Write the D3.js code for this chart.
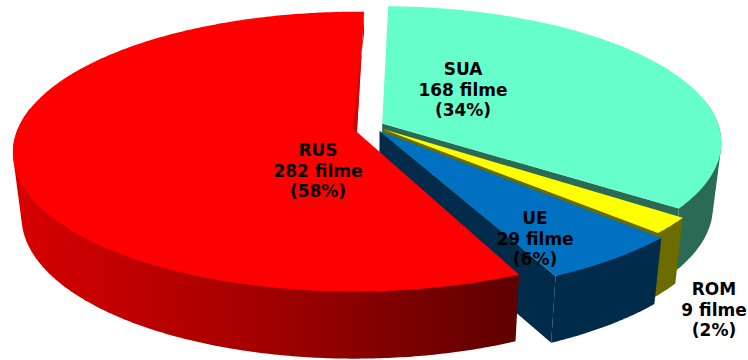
<!DOCTYPE html>
<html><head><meta charset="utf-8">
<script src="https://cdn.jsdelivr.net/npm/d3@7/dist/d3.min.js"></script>
<style>html,body{margin:0;background:#fff;overflow:hidden}svg{display:block}
text{font-family:"DejaVu Sans",sans-serif;font-weight:bold;font-size:17px;fill:#000;text-anchor:middle}</style>
</head><body>
<svg id="c" width="748" height="360"></svg>
<script>
const categories = ["SUA","ROM","UE","RUS"];
const films = [168,9,29,282];
const percents = [34,2,6,58];
const topColors = ["#66ffcc","#ffff00","#0070c0","#ff0000"];
const sideColors = ["#2b6b55","#6b6b00","#002b4b","url(#redWall)"];
const shiftU = [0.03,0.031,0.022,-0.044];
const shiftV = [-0.04,0,0.015,0.022];
const radiusU = [0.99,1,1.02,0.995];
const radiusV = [0.985,1,1.02,0.995];
const startNudgeDeg = [0,1.1,1.4,1.7];
const endNudgeDeg = [0.5,1.4,0.7,-0.4];
const labelX = [463,714,535,318];
const labelY = [75,295,224,156];

const W=748,H=360, cx=372, cy=129, persp=0.14, depth=64, converge=0.024;
const rad=Math.PI/180;
const sx=d3.scaleLinear([-1,1],[-341,341]), sy=d3.scaleLinear([-1,1],[-137,137]);
const svg=d3.select("#c");
const g=svg.append("defs").append("linearGradient").attr("id","redWall")
  .attr("gradientUnits","userSpaceOnUse").attr("x1",12).attr("x2",522).attr("y1",0).attr("y2",0);
[[0,"#d80000"],[0.5,"#a20000"],[1,"#5c0000"]].forEach(s=>g.append("stop").attr("offset",s[0]).attr("stop-color",s[1]));

function project(u,v,z){
  const s=1/(1-persp*v);
  return [cx+sx(u)*s*(1-converge*z), cy+sy(v)*s+depth*z*(1+(s-1)*0.3)];
}
const pie=d3.pie().sort(null).startAngle(1.4*rad).endAngle(361.4*rad);
const arcs=pie(films);
const line=d3.line();
function rim(i,a0,a1,z){
  const n=Math.max(2,Math.ceil(Math.abs(a1-a0)/0.01));
  return d3.range(n+1).map(k=>{const a=a0+(a1-a0)*k/n;
    return project(shiftU[i]+radiusU[i]*Math.sin(a),shiftV[i]-radiusV[i]*Math.cos(a),z);});
}
const apex=(i,z)=>project(shiftU[i],shiftV[i],z);
arcs.forEach((d,i)=>{
  const a0=d.startAngle+startNudgeDeg[i]*rad,a1=d.endAngle+endNudgeDeg[i]*rad;
  const gr=svg.append("g").attr("class","slice").datum(categories[i]);
  // outer wall: hull of the viewer-facing stretch of the rim, top and bottom
  const n0=Math.max(a0,80*rad), n1=Math.min(a1,280*rad);
  const hull=d3.polygonHull(rim(i,n0,n1,0).concat(rim(i,n0,n1,1)));
  gr.append("path").attr("fill",sideColors[i]).attr("d",line(hull)+"Z");
  // end wall
  if(i!=3){
    const e0=rim(i,a1,a1,0)[0], e1=rim(i,a1,a1,1)[0];
    gr.append("path").attr("fill",sideColors[i])
      .attr("d",line([apex(i,0),e0,e1,apex(i,1)])+"Z");
  }
  // top
  gr.append("path").attr("fill",topColors[i])
    .attr("d",line([apex(i,0)].concat(rim(i,a0,a1,0)))+"Z");
  if(i==3){
    const r=rim(i,a1,a1,0)[0], p=apex(i,0);
    gr.append("path").attr("fill","#d40000")
      .attr("d",line([r,p,[p[0]-5,p[1]-3],[r[0],r[1]+22]])+"Z");
  }
});
categories.forEach((c,i)=>{
  const t=svg.append("text").attr("x",labelX[i]).attr("y",labelY[i]);
  [c,films[i]+" filme","("+percents[i]+"%)"].forEach((s,k)=>
    t.append("tspan").attr("x",labelX[i]).attr("y",labelY[i]+k*20.5).text(s));
});
</script></body></html>
